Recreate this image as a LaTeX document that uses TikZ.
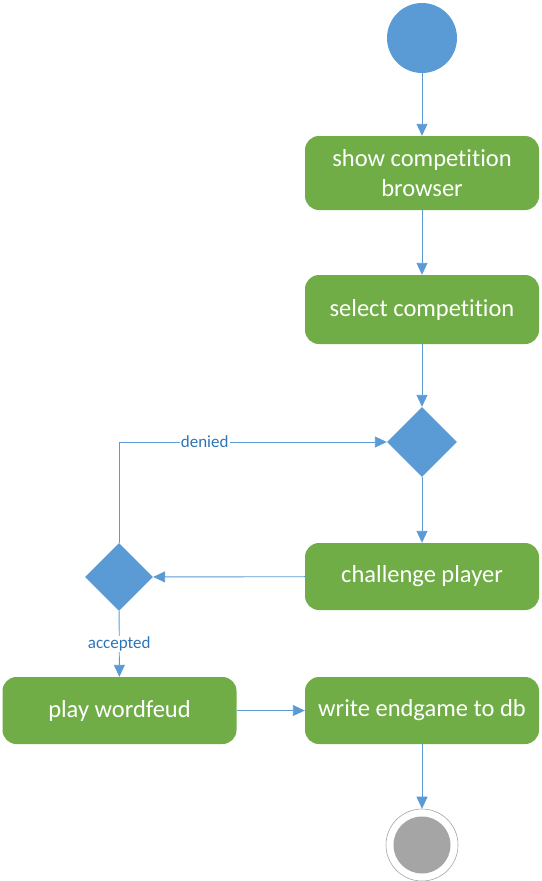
\documentclass[tikz,border=0pt]{standalone}
\usepackage{fontspec}
\setmainfont{Carlito}[RawFeature={-liga;-clig;-calt;-dlig}]
\usetikzlibrary{shapes.geometric,arrows.meta}
\definecolor{boxgreen}{RGB}{112,173,71}
\definecolor{dblue}{RGB}{91,155,213}
\definecolor{lblue}{RGB}{91,155,213}
\definecolor{lbltxt}{RGB}{46,117,182}
\definecolor{endgray}{RGB}{165,165,165}
\newcommand{\ti}{t\kern0pt i}
\tikzset{
  x=1pt,y=-1pt,
  act/.style={draw=none,fill=boxgreen,rounded corners=14pt,minimum width=234pt,minimum height=72pt,text=white,font=\fontsize{24.5}{30}\selectfont,align=center,inner sep=0pt},
  actb/.style={act,minimum height=67pt},
  dec/.style={diamond,fill=dblue,draw=none,minimum width=70pt,minimum height=70pt,inner sep=0pt,aspect=1},
  flow/.style={draw=lblue,line width=0.9pt,-{Triangle[length=12pt,width=11pt]}},
  lbl/.style={fill=white,text=lbltxt,font=\fontsize{17}{19}\selectfont,inner sep=1pt}
}
\begin{document}
\begin{tikzpicture}
\useasboundingbox (0,0) rectangle (541,881);
\node[circle,fill=dblue,minimum size=70pt,inner sep=0pt] (start) at (422,38) {};
\node[act,minimum height=74pt] (show) at (422,173) {show compe\ti\ti on\\browser};
\node[act,minimum height=69pt] (select) at (422,309.5) {select compe\ti\ti on};
\node[dec] (d1) at (422,442) {};
\node[actb] (chal) at (422,576.5) {challenge player};
\node[dec,minimum width=68pt,minimum height=68pt] (d2) at (119,577) {};
\node[actb] (play) at (119.5,710.5) {play wordfeud};
\node[actb] (write) at (422,710.5) {write endgame to db};
\node[circle,draw=endgray,line width=0.6pt,fill=white,minimum size=72pt,inner sep=0pt] (endo) at (422,845) {};
\node[circle,fill=endgray,minimum size=57pt,inner sep=0pt] (endi) at (422,845) {};
\coordinate (corner) at (119,442);
\draw[flow] (start) -- (show);
\draw[flow] (show) -- (select);
\draw[flow] (select) -- (d1);
\draw[flow] (d1) -- (chal);
\draw[flow] (chal) -- (d2);
\draw[flow] (d2.north) -- (corner) -- node[lbl,pos=0.32]{denied} (d1.west);
\draw[flow] (d2) -- node[lbl,pos=0.5]{accepted} (play);
\draw[flow] (play) -- (write);
\draw[flow] (write) -- (endo);
\end{tikzpicture}
\end{document}
